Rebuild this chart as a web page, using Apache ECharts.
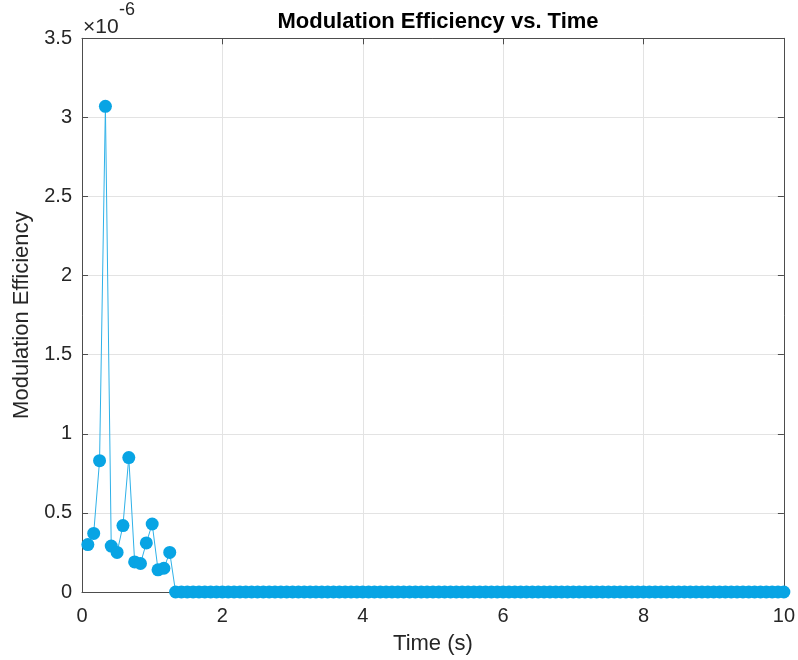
<!DOCTYPE html>
<html>
<head>
<meta charset="utf-8">
<title>Modulation Efficiency vs. Time</title>
<script src="https://cdn.jsdelivr.net/npm/echarts@6/dist/echarts.min.js"></script>
<style>
  html, body { margin: 0; padding: 0; background: #ffffff; }
  #chart { width: 798px; height: 660px; }
</style>
</head>
<body>
<div id="chart"></div>
<script>
// Sampling interval of the time series (s)
const sampleStep = 1 / 12;

// Modulation efficiency per sample, in units of 1e-6
const efficiency = [
  0.30, 0.37, 0.83, 3.07, 0.29, 0.25, 0.42, 0.85, 0.19, 0.18,
  0.31, 0.43, 0.14, 0.15, 0.25, 0, 0, 0, 0, 0,
  0, 0, 0, 0, 0, 0, 0, 0, 0, 0,
  0, 0, 0, 0, 0, 0, 0, 0, 0, 0,
  0, 0, 0, 0, 0, 0, 0, 0, 0, 0,
  0, 0, 0, 0, 0, 0, 0, 0, 0, 0,
  0, 0, 0, 0, 0, 0, 0, 0, 0, 0,
  0, 0, 0, 0, 0, 0, 0, 0, 0, 0,
  0, 0, 0, 0, 0, 0, 0, 0, 0, 0,
  0, 0, 0, 0, 0, 0, 0, 0, 0, 0,
  0, 0, 0, 0, 0, 0, 0, 0, 0, 0,
  0, 0, 0, 0, 0, 0, 0, 0, 0, 0
];

// Time stamps (s) of each sample
const timeSec = efficiency.map((_, i) => (i + 1) * sampleStep);

const xTicks = [0, 2, 4, 6, 8, 10];
const yTicks = [0, 0.5, 1, 1.5, 2, 2.5, 3, 3.5];

const FONT = '"Liberation Sans", Arial, Helvetica, sans-serif';
const TEXT = '#262626';
const BOX = '#4d4d4d';
const GRID = '#e3e3e3';
const LINE = '#2fb1e8';
const MARK = '#08a4e4';

const chart = echarts.init(document.getElementById('chart'), null, { renderer: 'canvas' });

const tickIn = { show: true, inside: true, length: 6, lineStyle: { color: BOX, width: 1 } };
const boxLine = { show: true, onZero: false, lineStyle: { color: BOX, width: 1 } };

chart.setOption({
  animation: false,
  backgroundColor: '#ffffff',
  title: {
    text: 'Modulation Efficiency vs. Time',
    left: 433,
    textAlign: 'center',
    top: 6,
    textStyle: { fontFamily: FONT, fontSize: 22, fontWeight: 'bold', color: '#000000' }
  },
  grid: { left: 82, right: 13.5, top: 38.3, bottom: 66, containLabel: false },
  xAxis: [
    {
      type: 'value', position: 'bottom',
      min: xTicks[0], max: xTicks[xTicks.length - 1], interval: 2,
      axisLine: boxLine, axisTick: tickIn,
      axisLabel: { color: TEXT, fontFamily: FONT, fontSize: 20, margin: 14 },
      splitLine: { show: true, lineStyle: { color: GRID, width: 1 } },
      name: 'Time (s)', nameLocation: 'middle', nameGap: 41,
      nameTextStyle: { color: TEXT, fontFamily: FONT, fontSize: 22 }
    },
    {
      type: 'value', position: 'top',
      min: xTicks[0], max: xTicks[xTicks.length - 1], interval: 2,
      axisLine: boxLine, axisTick: tickIn,
      axisLabel: { show: false }, splitLine: { show: false }
    }
  ],
  yAxis: [
    {
      type: 'value', position: 'left',
      min: yTicks[0], max: yTicks[yTicks.length - 1], interval: 0.5,
      axisLine: boxLine, axisTick: tickIn,
      axisLabel: { color: TEXT, fontFamily: FONT, fontSize: 20, margin: 10 },
      splitLine: { show: true, lineStyle: { color: GRID, width: 1 } },
      name: 'Modulation Efficiency', nameLocation: 'middle', nameGap: 48,
      nameTextStyle: { color: TEXT, fontFamily: FONT, fontSize: 22 }
    },
    {
      type: 'value', position: 'right',
      min: yTicks[0], max: yTicks[yTicks.length - 1], interval: 0.5,
      axisLine: boxLine, axisTick: tickIn,
      axisLabel: { show: false }, splitLine: { show: false }
    }
  ],
  graphic: [
    // exponent multiplier of the y axis
    {
      type: 'text', left: 83, top: 17,
      style: { text: '\u00d710', fontFamily: FONT, fontSize: 21, fill: TEXT }
    },
    {
      type: 'text', left: 119, top: 1,
      style: { text: '-6', fontFamily: FONT, fontSize: 18, fill: TEXT }
    }
  ],
  series: [
    {
      type: 'line',
      xAxisIndex: 0, yAxisIndex: 0,
      data: timeSec.map((t, i) => [t, efficiency[i]]),
      symbol: 'circle',
      symbolSize: 13,
      showAllSymbol: true,
      lineStyle: { color: LINE, width: 1 },
      itemStyle: { color: MARK, borderWidth: 0 },
      z: 5
    }
  ]
});
</script>
</body>
</html>
